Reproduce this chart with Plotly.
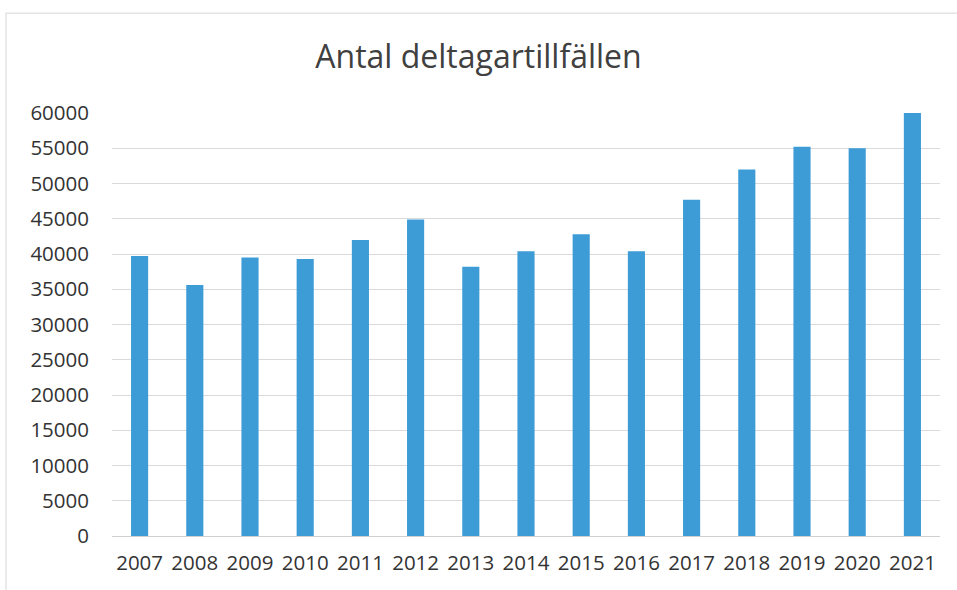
import plotly.graph_objects as go

years = ["2007", "2008", "2009", "2010", "2011", "2012", "2013", "2014",
         "2015", "2016", "2017", "2018", "2019", "2020", "2021"]
participants = [39700, 35600, 39500, 39300, 42000, 44900, 38200, 40400,
                42800, 40400, 47700, 52000, 55200, 55000, 60000]
y_ticks = list(range(0, 60001, 5000))

fig = go.Figure(go.Bar(
    x=years, y=participants,
    marker=dict(color="#3D9BD6", line=dict(width=0)),
))

fig.update_layout(
    width=957, height=590,
    paper_bgcolor="white", plot_bgcolor="white",
    margin=dict(l=112, r=17, t=113, b=54),
    bargap=0.69,
    showlegend=False,
    title=dict(text="Antal deltagartillfällen", x=0.5, xanchor="center",
               y=0.903, yanchor="middle",
               font=dict(family="Open Sans", size=32, color="#404040")),
    font=dict(family="Open Sans", size=20, color="#333333"),
    xaxis=dict(type="category", showgrid=False, showline=False, ticks="",
               ticklabelstandoff=12,
               tickfont=dict(size=20.5, color="#333333")),
    yaxis=dict(range=[0, 60000], tickvals=y_ticks, tickformat="d",
               showgrid=True, gridcolor="#DADADA", gridwidth=1,
               zeroline=True, zerolinecolor="#D0D0D0", zerolinewidth=1,
               showline=False, ticks="", ticklabelstandoff=22,
               tickfont=dict(size=20.5, color="#333333")),
    shapes=[dict(type="rect", xref="paper", yref="paper",
                 x0=-0.128, x1=1.05, y0=-0.2, y1=1.236,
                 line=dict(color="#E4E4E4", width=1.5))],
)

fig.write_html("out.html", config={"displayModeBar": False},
               post_script="document.body.style.margin='0';")
